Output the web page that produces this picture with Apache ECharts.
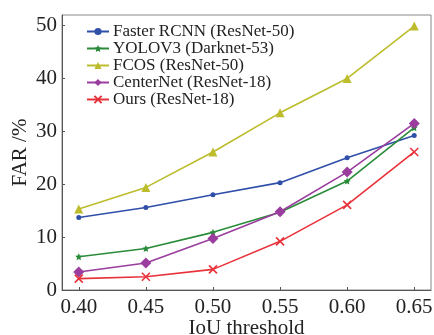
<!DOCTYPE html>
<html><head><meta charset="utf-8">
<script src="https://cdn.jsdelivr.net/npm/echarts@6/dist/echarts.min.js"></script>
<style>html,body{margin:0;padding:0;background:#fff}#c{width:434px;height:335px}</style>
</head><body><div id="c"></div>
<script>
var thresholds = [0.40, 0.45, 0.50, 0.55, 0.60, 0.65];
var xTickLabels = ['0.40','0.45','0.50','0.55','0.60','0.65'];
var yTicks = [0, 10, 20, 30, 40, 50];
var seriesNames = ['Faster RCNN (ResNet-50)','YOLOV3 (Darknet-53)','FCOS (ResNet-50)','CenterNet (ResNet-18)','Ours (ResNet-18)'];
var fasterRcnn = [13.7, 15.6, 18.0, 20.3, 25.0, 29.2];
var yolov3 = [6.3, 7.85, 10.9, 14.7, 20.6, 30.7];
var fcos = [15.3, 19.4, 26.1, 33.5, 40.0, 49.9];
var centerNet = [3.4, 5.1, 9.75, 14.8, 22.3, 31.5];
var ours = [2.15, 2.5, 3.9, 9.2, 16.1, 26.1];

var colors = ['#2f4fa8','#2a8c3a','#bcbc2c','#9a3d9e','#e8323a'];
var symbols = ['circle','path://M0,-10L2.9,-4L9.5,-3.1L4.7,1.5L5.9,8.1L0,5L-5.9,8.1L-4.7,1.5L-9.5,-3.1L-2.9,-4Z','triangle','diamond','path://M-10,-10L10,10M10,-10L-10,10'];
var sizes = [5, 7, 9, 11, 8];
var all = [fasterRcnn, yolov3, fcos, centerNet, ours];
var font = '"Liberation Serif","DejaVu Serif",serif';

var series = all.map(function(vals, i){
  return {
    name: seriesNames[i], type: 'line',
    data: vals.map(function(v, j){ return [thresholds[j], v]; }),
    symbol: symbols[i], symbolSize: sizes[i],
    lineStyle: {color: colors[i], width: 1.6},
    itemStyle: i === 4 ? {color: 'transparent', borderColor: colors[i], borderWidth: 1.6} : {color: colors[i], borderColor: colors[i], borderWidth: 0},
    showSymbol: true
  };
});

var chart = echarts.init(document.getElementById('c'), null, {renderer:'canvas'});
chart.setOption({
  animation: false,
  color: colors,
  grid: {left: 62, top: 15, right: 3, bottom: 45, show: true, borderColor: '#888', borderWidth: 1, outerBoundsMode: 'none', containLabel: false},
  legend: {
    left: 86, top: 23, padding: 0, orient: 'vertical', itemGap: 0, itemWidth: 22, itemHeight: 9,
    textStyle: {fontFamily: font, fontSize: 17, lineHeight: 15.8, color: '#222', padding: [0,0,0,-1]},
    data: seriesNames
  },
  xAxis: {
    type: 'value', min: 0.3875, max: 0.6625,
    name: 'IoU threshold', nameLocation: 'middle', nameGap: 28, nameMoveOverlap: false,
    nameTextStyle: {fontFamily: font, fontSize: 21, color: '#222', verticalAlign: 'top'},
    axisLine: {lineStyle: {color: '#555', width: 1}},
    axisTick: {show: true, inside: true, length: 3, customValues: thresholds, lineStyle: {color: '#555'}},
    axisLabel: {customValues: thresholds, formatter: function(v){ return xTickLabels[thresholds.indexOf(+v.toFixed(2))] || v.toFixed(2); }, fontFamily: font, fontSize: 21, color: '#222', margin: 7},
    splitLine: {show: false}
  },
  yAxis: {
    type: 'value', min: 0, max: 52,
    name: 'FAR /%', nameLocation: 'middle', nameGap: 31, nameRotate: 90, nameMoveOverlap: false,
    nameTextStyle: {fontFamily: font, fontSize: 21, color: '#222'},
    axisLine: {show: true, lineStyle: {color: '#555', width: 1}},
    axisTick: {show: true, inside: true, length: 3, customValues: yTicks, lineStyle: {color: '#555'}},
    axisLabel: {customValues: yTicks, fontFamily: font, fontSize: 21, color: '#222', margin: 5},
    splitLine: {show: false}
  },
  series: series
});
</script></body></html>
